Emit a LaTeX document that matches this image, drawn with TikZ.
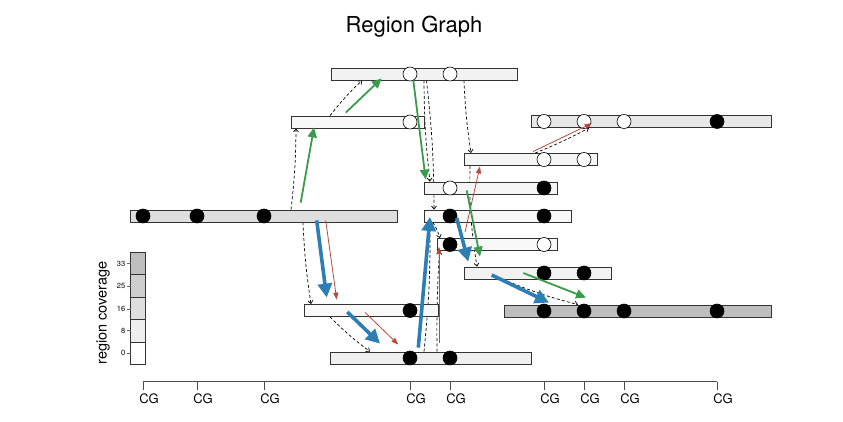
\documentclass[tikz,border=0pt]{standalone}
\usepackage{fontspec}
\setmainfont{TeX Gyre Heros}
\usetikzlibrary{arrows.meta,calc}
\definecolor{bluA}{HTML}{2E7EB6}
\definecolor{grnA}{HTML}{3A9B4C}
\definecolor{redA}{HTML}{B8493A}
\definecolor{edgeC}{HTML}{333333}
\definecolor{cov0}{HTML}{FFFFFF}
\definecolor{cov8}{HTML}{EEEEEE}
\definecolor{cov16}{HTML}{DEDEDE}
\definecolor{cov25}{HTML}{CECECE}
\definecolor{cov33}{HTML}{BEBEBE}
\definecolor{fA}{HTML}{F2F2F2}
\definecolor{fB}{HTML}{F8F8F8}
\definecolor{fC}{HTML}{E8E8E8}
\definecolor{fD}{HTML}{F5F5F5}
\definecolor{fL}{HTML}{EFEFEF}
\begin{document}
\begin{tikzpicture}[x=1pt,y=-1pt,
  bar/.style={rectangle, draw=edgeC, line width=0.8pt, inner sep=0pt, minimum height=12pt},
  cgw/.style={circle, draw=black, line width=0.6pt, fill=white, minimum size=14pt, inner sep=0pt},
  cgb/.style={circle, draw=black, line width=0.6pt, fill=black, minimum size=14pt, inner sep=0pt},
  dedge/.style={draw=black, line width=0.7pt, dash pattern=on 3pt off 2.2pt, -{Straight Barb[length=3pt,width=5pt]}},
  bluarrow/.style={draw=bluA, line width=3.6pt, -{Triangle[length=14pt,width=14pt]}},
  grnarrow/.style={draw=grnA, line width=1.8pt, -{Triangle[length=10pt,width=9pt]}},
  redarrow/.style={draw=redA, line width=0.8pt, -{Triangle[length=7pt,width=5pt]}},
  cglab/.style={font=\fontsize{13}{15}\selectfont, inner sep=0pt},
  leglab/.style={font=\fontsize{7.5}{9}\selectfont, inner sep=0pt, anchor=east}
]
\useasboundingbox (0,0) rectangle (843,422);
\node[font=\fontsize{22}{26}\selectfont] (title) at (414,27) {Region Graph};

% ---- bars as named nodes (outline only, used as anchors for edges)
\path
  (424,74)    node[bar, minimum width=186pt] (A) {}
  (357.5,122) node[bar, minimum width=133pt] (B) {}
  (651,121.5) node[bar, minimum width=240pt] (C) {}
  (530.5,159.5) node[bar, minimum width=133pt] (D) {}
  (490.5,188) node[bar, minimum width=133pt] (E) {}
  (263.5,216) node[bar, minimum width=267pt] (F) {}
  (497.5,216) node[bar, minimum width=147pt] (G) {}
  (497,244.5) node[bar, minimum width=120pt] (H) {}
  (537.5,273) node[bar, minimum width=147pt] (I) {}
  (371,310.5) node[bar, minimum width=134pt] (J) {}
  (638,311)   node[bar, minimum width=267pt] (K) {}
  (430.5,358) node[bar, minimum width=201pt] (L) {};

% ---- dashed graph edges (behind bars)
\draw[dedge] (330,0 |- B.north) to[bend left=4] (362,0 |- A.south);
\draw[dedge] (291,0 |- F.north) to[bend right=3] (296,0 |- B.south);
\draw[dedge] (303,0 |- F.south) to[bend right=3] (311,0 |- J.north);
\draw[dedge] (330,0 |- J.south) to[bend right=4] (370,0 |- L.north);
\draw[dedge] (424,0 |- A.south) to[bend right=3] (430,0 |- E.north);
\draw[dedge] (426.5,0 |- A.south) to[bend left=3] (434,0 |- G.north);
\draw[dedge] (464,0 |- A.south) to[bend right=3] (471,0 |- D.north);
\draw[dedge] (535,0 |- D.north) to[bend right=3] (589,0 |- C.south);
\draw[dedge] (470,0 |- D.south) to[bend right=5] (477,0 |- I.north);
\draw[dedge] (433,0 |- G.south) to[bend left=6] (440,0 |- H.north);
\draw[dedge] (424,0 |- L.north) to[bend right=3] (430,0 |- G.south);
\draw[dedge] (437,0 |- L.north) to[bend left=2] (439.5,0 |- H.south);
\draw[dedge] (503,0 |- I.south) to[bend right=4] (578,0 |- K.north);

% ---- bar fills (on top of edges)
\path
  (424,74)    node[bar, fill=fA, minimum width=186pt] {}
  (357.5,122) node[bar, fill=fB, minimum width=133pt] {}
  (651,121.5) node[bar, fill=fC, minimum width=240pt] {}
  (530.5,159.5) node[bar, fill=fD, minimum width=133pt] {}
  (490.5,188) node[bar, fill=fD, minimum width=133pt] {}
  (263.5,216) node[bar, fill=cov16, minimum width=267pt] {}
  (497.5,216) node[bar, fill=fB, minimum width=147pt] {}
  (497,244.5) node[bar, fill=fB, minimum width=120pt] {}
  (537.5,273) node[bar, fill=fA, minimum width=147pt] {}
  (371,310.5) node[bar, fill=fB, minimum width=134pt] {}
  (638,311)   node[bar, fill=cov33, minimum width=267pt] {}
  (430.5,358) node[bar, fill=fL, minimum width=201pt] {};

% ---- CG sites
\node[cgw] (A1) at (410,74) {};  \node[cgw] (A2) at (450,74) {};
\node[cgw] (B1) at (410,122) {};
\node[cgw] (C1) at (544,121.5) {}; \node[cgw] (C2) at (584,121.5) {};
\node[cgw] (C3) at (624,121.5) {}; \node[cgb] (C4) at (717,121.5) {};
\node[cgw] (D1) at (544,159.5) {}; \node[cgw] (D2) at (584,159.5) {};
\node[cgw] (E1) at (450,188) {};   \node[cgb] (E2) at (544,188) {};
\node[cgb] (F1) at (143,216) {};   \node[cgb] (F2) at (197,216) {};
\node[cgb] (F3) at (264,216) {};
\node[cgb] (G1) at (450,216) {};   \node[cgb] (G2) at (544,216) {};
\node[cgb] (H1) at (450,244.5) {}; \node[cgw] (H2) at (544,244.5) {};
\node[cgb] (I1) at (544,273) {};   \node[cgb] (I2) at (584,273) {};
\node[cgb] (J1) at (410,310.5) {};
\node[cgb] (K1) at (544,311) {};   \node[cgb] (K2) at (584,311) {};
\node[cgb] (K3) at (624,311) {};   \node[cgb] (K4) at (717,311) {};
\node[cgb] (L1) at (410,358) {};   \node[cgb] (L2) at (450,358) {};

% ---- red paths
\draw[redarrow] ($(325.7,0 |- F.south)+(0,-2)$) -- ($(336.7,0 |- J.north)+(0,-4.5)$);
\draw[redarrow] ($(365,0 |- J.south)+(0,-4.5)$) -- ($(398.3,0 |- L.north)+(0,-7)$);
\draw[redarrow] ($(439,0 |- L.north)+(0,-9)$) -- ($(439,0 |- H.south)+(0,-4)$);
\draw[redarrow] ($(465,0 |- H.north)+(0,-6)$) -- ($(480,0 |- D.south)+(0,0.5)$);
\draw[redarrow] ($(533,0 |- D.north)+(0,-1.5)$) -- ($(591.7,0 |- C.south)+(0,-4.5)$);

% ---- green paths
\draw[grnarrow] ($(300.7,0 |- F.north)+(0,-7)$) -- ($(314,0 |- B.south)+(0,-1)$);
\draw[grnarrow] ($(345.7,0 |- B.north)+(0,-3)$) -- ($(381.7,0 |- A.south)+(0,-2)$);
\draw[grnarrow] (413.3,0 |- A.south) -- ($(425.7,0 |- E.north)+(0,-2)$);
\draw[grnarrow] ($(466.7,0 |- E.south)+(0,-4)$) -- ($(480,0 |- I.north)+(0,-10)$);
\draw[grnarrow] (523.3,0 |- I.center) -- ($(586,0 |- K.north)+(0,-7)$);

% ---- blue paths
\draw[bluarrow] ($(316.7,0 |- F.south)+(0,-2)$) -- ($(326.7,0 |- J.north)+(0,-6.5)$);
\draw[bluarrow] ($(347.3,0 |- J.center)+(0,1.5)$) -- ($(380,0 |- L.north)+(0,-8)$);
\draw[bluarrow] ($(418.3,0 |- L.north)+(0,-4)$) -- ($(430,0 |- G.center)+(0,1)$);
\draw[bluarrow] ($(456.7,0 |- G.center)+(0,2)$) -- ($(468.3,0 |- I.north)+(0,-5)$);
\draw[bluarrow] ($(491.7,0 |- I.center)+(0,2)$) -- ($(549,0 |- K.north)+(0,-2)$);

% ---- legend
\draw[edgeC, line width=0.7pt, fill=cov33] (130.5,252) rectangle (145,274.3);
\draw[edgeC, line width=0.7pt, fill=cov25] (130.5,274.3) rectangle (145,297.3);
\draw[edgeC, line width=0.7pt, fill=cov16] (130.5,297.3) rectangle (145,319.3);
\draw[edgeC, line width=0.7pt, fill=cov8] (130.5,319.3) rectangle (145,342);
\draw[edgeC, line width=0.7pt, fill=cov0] (130.5,342) rectangle (145,364);
\foreach \yy/\tt in {263.7/33, 286/25, 309/16, 330.7/8, 353/0}{
  \draw[gray!80!black, line width=0.6pt] (126.5,\yy) -- (130.5,\yy);
  \node[leglab] at (125.5,\yy) {\tt};
}
\node[rotate=90, font=\fontsize{14.5}{17}\selectfont, inner sep=0pt] (covlab) at (103,313) {region coverage};

% ---- axis
\draw[gray!60!black, line width=0.8pt] (143,381.5) -- (717,381.5);
\foreach \xx in {143,197,264,410,450,544,584,624,717}{
  \draw[gray!60!black, line width=0.8pt] (\xx,381.5) -- (\xx,389.5);
  \node[cglab] at (\xx+6,399) {CG};
}
\end{tikzpicture}
\end{document}
